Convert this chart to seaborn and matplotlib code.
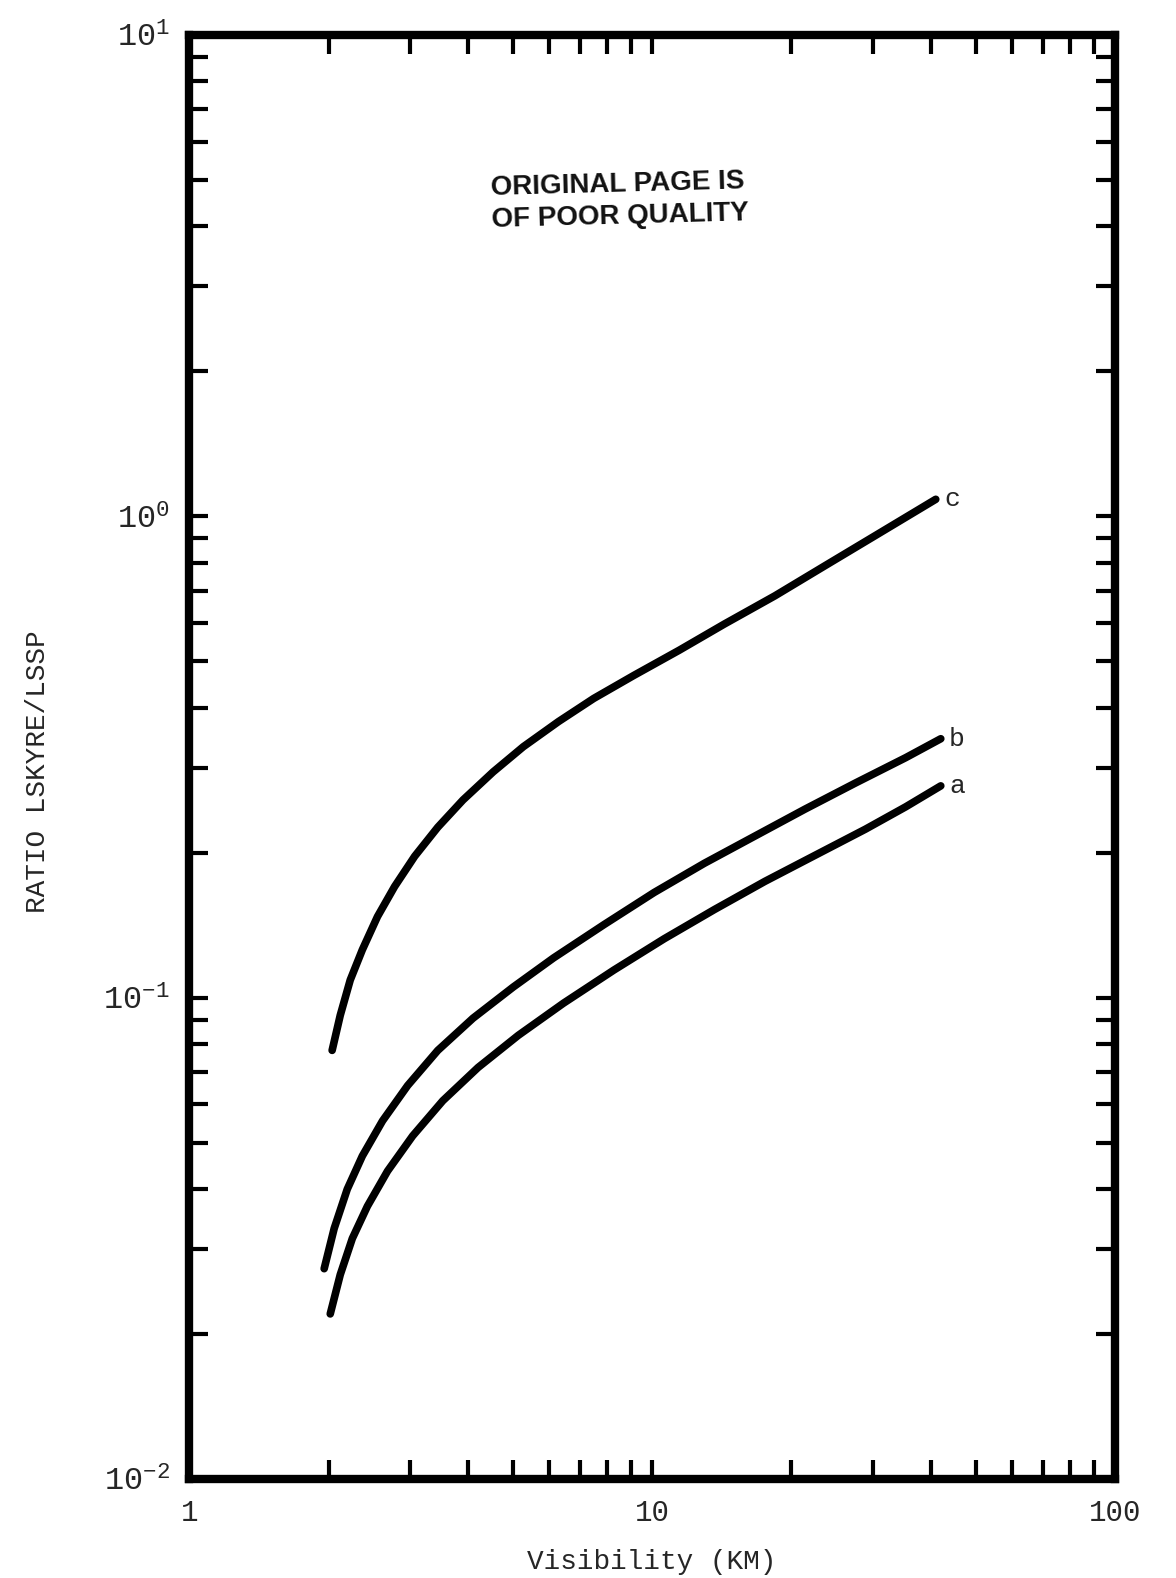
import numpy as np
import pandas as pd
import matplotlib
matplotlib.use("Agg")
import matplotlib.pyplot as plt
import seaborn as sns
from matplotlib.ticker import LogLocator, NullFormatter, FixedLocator, FixedFormatter

# ---- data ----
vis_c = [2.035, 2.119, 2.227, 2.365, 2.550, 2.777, 3.069, 3.443, 3.902, 4.534,
         5.269, 6.279, 7.479, 9.139, 11.45, 14.33, 18.42, 23.65, 30.38, 41.02]
ratio_c = [0.0777, 0.0919, 0.1088, 0.1257, 0.1473, 0.1701, 0.1966, 0.2259, 0.2573, 0.2943,
           0.3320, 0.3745, 0.4182, 0.4671, 0.5268, 0.5970, 0.6831, 0.7892, 0.9116, 1.084]

vis_b = [1.956, 2.056, 2.194, 2.365, 2.615, 2.963, 3.443, 4.102, 5.012, 6.124,
         7.865, 10.10, 12.97, 16.66, 21.40, 27.49, 35.31, 42.06]
ratio_b = [0.02735, 0.03316, 0.0400, 0.04688, 0.05546, 0.06566, 0.07769, 0.09062, 0.1052, 0.1209,
           0.1417, 0.1653, 0.1901, 0.2164, 0.2463, 0.2790, 0.3150, 0.3449]

vis_a = [2.016, 2.119, 2.250, 2.425, 2.681, 3.038, 3.530, 4.206, 5.139, 6.437,
         8.270, 10.62, 13.64, 17.52, 22.50, 28.91, 35.31, 42.06]
ratio_a = [0.02203, 0.02658, 0.0316, 0.03686, 0.04362, 0.05161, 0.06107, 0.07158, 0.08349, 0.09739,
           0.1141, 0.1325, 0.1524, 0.1743, 0.1975, 0.2238, 0.2490, 0.2753]

curve_names = ["a", "b", "c"]
x_ticks = [1, 10, 100]
x_ticklabels = ["1", "10", "100"]
y_ticks = [0.01, 0.1, 1, 10]
y_ticklabels = [r"$\mathregular{10^{-2}}$", r"$\mathregular{10^{-1}}$",
                r"$\mathregular{10^{0}}$", r"$\mathregular{10^{1}}$"]
x_label = "Visibility (KM)"
y_label = "RATIO LSKYRE/LSSP"
stamp_lines = ["ORIGINAL PAGE IS", "OF POOR QUALITY"]

df = pd.concat([
    pd.DataFrame({"vis": vis_a, "ratio": ratio_a, "curve": "a"}),
    pd.DataFrame({"vis": vis_b, "ratio": ratio_b, "curve": "b"}),
    pd.DataFrame({"vis": vis_c, "ratio": ratio_c, "curve": "c"}),
])

sns.set_style("white")
plt.rcParams["font.family"] = ["Liberation Mono", "DejaVu Sans Mono"]
plt.rcParams["mathtext.fontset"] = "custom"
plt.rcParams["mathtext.rm"] = "Liberation Mono"
plt.rcParams["mathtext.it"] = "Liberation Mono"
plt.rcParams["mathtext.bf"] = "Liberation Mono:bold"

fig = plt.figure(figsize=(11.76, 15.78), dpi=100)
ax = fig.add_axes([0.161, 0.0627, 0.948 - 0.161, 0.978 - 0.0627])

for name in curve_names:
    sub = df[df["curve"] == name]
    sns.lineplot(data=sub, x="vis", y="ratio", ax=ax, color="black",
                 linewidth=5.5, sort=True, estimator=None,
                 solid_capstyle="round", solid_joinstyle="round", legend=False)

ax.set_xscale("log")
ax.set_yscale("log")
ax.set_xlim(1, 100)
ax.set_ylim(0.01, 10)

for sp in ax.spines.values():
    sp.set_linewidth(6)
    sp.set_color("black")
    sp.set_capstyle("projecting")

ax.xaxis.set_major_locator(FixedLocator(x_ticks))
ax.xaxis.set_major_formatter(FixedFormatter(x_ticklabels))
ax.yaxis.set_major_locator(FixedLocator(y_ticks))
ax.yaxis.set_major_formatter(FixedFormatter(y_ticklabels))
ax.xaxis.set_minor_locator(LogLocator(base=10, subs=np.arange(2, 10), numticks=20))
ax.yaxis.set_minor_locator(LogLocator(base=10, subs=np.arange(2, 10), numticks=20))
ax.xaxis.set_minor_formatter(NullFormatter())
ax.yaxis.set_minor_formatter(NullFormatter())

ax.tick_params(which="both", direction="in", top=True, right=True,
               bottom=True, left=True, color="black")
ax.tick_params(which="major", length=14, width=3)
ax.tick_params(which="minor", length=14, width=3)
ax.tick_params(axis="x", which="major", pad=14, labelsize=21)
ax.tick_params(axis="y", which="major", pad=14, labelsize=23)

ax.set_xlabel(x_label, fontsize=20, labelpad=16)
ax.set_ylabel(y_label, fontsize=20)
ax.yaxis.set_label_coords(-0.150, 0.49)
ax.grid(False)

# curve end labels
ends = {"a": (vis_a[-1], ratio_a[-1]), "b": (vis_b[-1], ratio_b[-1]),
        "c": (vis_c[-1], ratio_c[-1])}
for name, (xv, yv) in ends.items():
    ax.annotate(name, (xv, yv), xytext=(6, 0), textcoords="offset points",
                ha="left", va="center", fontsize=19)

# stamp
ax.text(0.325, 0.885, stamp_lines[0] + "\n" + stamp_lines[1], transform=ax.transAxes,
        ha="left", va="center", fontsize=20, fontweight="bold",
        family=["Liberation Sans", "DejaVu Sans"], color="#111111",
        rotation=1.5, linespacing=1.3)

fig.savefig("out.png", dpi=100, facecolor="white")
